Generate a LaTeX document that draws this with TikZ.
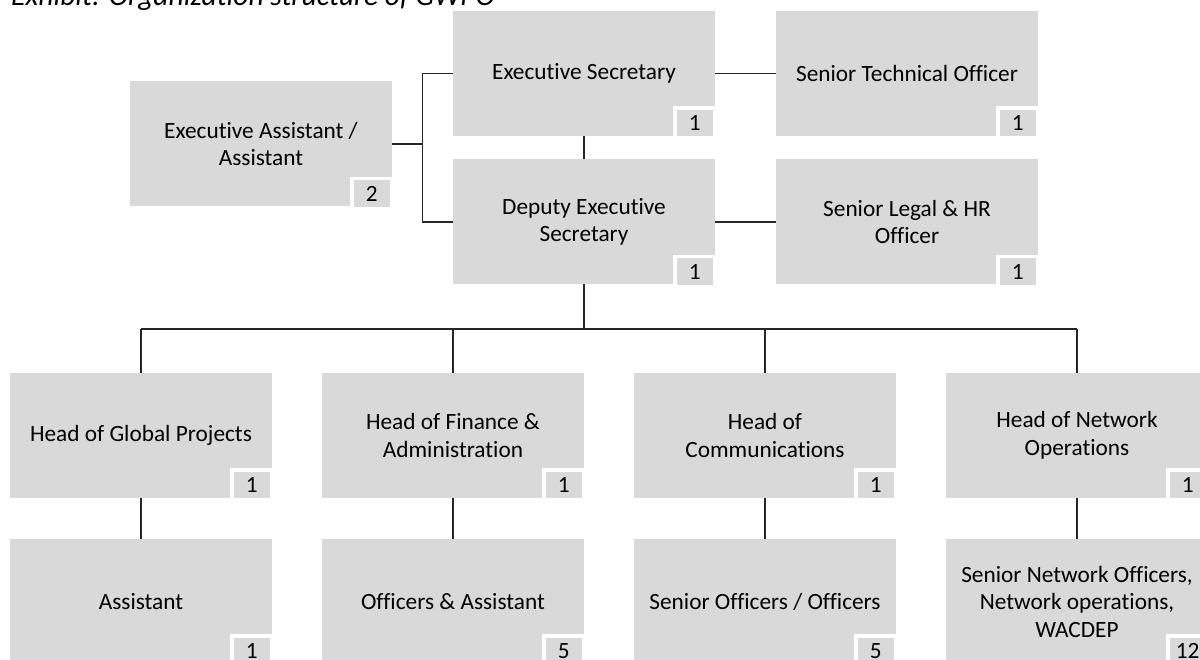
\documentclass[tikz,border=0pt]{standalone}
\usepackage{fontspec}
\setmainfont{Carlito}[Ligatures=NoCommon]
\definecolor{boxgray}{HTML}{D9D9D9}
\definecolor{linecol}{HTML}{262626}
\tikzset{
  orgbox/.style={rectangle, fill=boxgray, minimum width=262pt, minimum height=125pt,
    inner sep=0pt, outer sep=0pt, align=center, text=black,
    font=\fontsize{23.3}{27.5}\selectfont},
  badge/.style={rectangle, fill=boxgray, draw=white, line width=3.5pt,
    minimum width=39.4pt, minimum height=29.8pt, inner sep=0pt, outer sep=0pt,
    anchor=south east, font=\fontsize{23.3}{27.5}\selectfont},
  conn/.style={draw=linecol, line width=1.2pt},
}
\newcommand{\orgbadge}[2]{\node[badge] (#1b) at ([xshift=-0.6pt,yshift=-2pt]#1.south east) {#2};}
\begin{document}
\begin{tikzpicture}[x=1pt,y=-1pt]
\useasboundingbox (0,0) rectangle (1200,660);
\clip (0,0) rectangle (1200,660);
% title
\node[anchor=base west, inner sep=0pt, font=\itshape\fontsize{29.5}{33}\selectfont] (title) at (11,6) {Exhibit: Organization structure of GWPO};
% top boxes
\node[orgbox, anchor=north west] (ea) at (130,81.5) {Executive Assistant /\\Assistant};
\node[orgbox, anchor=north west] (es) at (453,11) {Executive Secretary};
\node[orgbox, anchor=north west] (de) at (453,159.5) {Deputy Executive\\Secretary};
\node[orgbox, anchor=north west] (st) at (776,11) {Senior Technical Officer};
\node[orgbox, anchor=north west] (sl) at (776,159.5) {Senior Legal \& HR\\Officer};
% row 2
\node[orgbox, anchor=north west] (h1) at (10,373) {Head of Global Projects};
\node[orgbox, anchor=north west] (h2) at (322,373) {Head of Finance \&\\Administration};
\node[orgbox, anchor=north west] (h3) at (634,373) {Head of\\Communications};
\node[orgbox, anchor=north west] (h4) at (946,373) {Head of Network\\Operations};
% row 3
\node[orgbox, anchor=north west] (s1) at (10,539) {Assistant};
\node[orgbox, anchor=north west] (s2) at (322,539) {Officers \& Assistant};
\node[orgbox, anchor=north west] (s3) at (634,539) {Senior Officers / Officers};
\node[orgbox, anchor=north west] (s4) at (946,539) {Senior Network Officers,\\Network operations,\\WACDEP};
% badges
\orgbadge{ea}{2}
\orgbadge{es}{1}
\orgbadge{de}{1}
\orgbadge{st}{1}
\orgbadge{sl}{1}
\orgbadge{h1}{1}
\orgbadge{h2}{1}
\orgbadge{h3}{1}
\orgbadge{h4}{1}
\orgbadge{s1}{1}
\orgbadge{s2}{5}
\orgbadge{s3}{5}
\orgbadge{s4}{12}
% connectors
\coordinate (ej) at (422.3,0);
\coordinate (bus) at (0,329);
\draw[conn] (ea.east) -- (ea.east -| ej);
\draw[conn] (es.west -| ej) -- (de.west -| ej);
\draw[conn] (es.west -| ej) -- (es.west);
\draw[conn] (de.west -| ej) -- (de.west);
\draw[conn] (es.east) -- (st.west);
\draw[conn] (de.east) -- (sl.west);
\draw[conn] (es.south) -- (de.north);
\draw[conn] (de.south) -- (de.south |- bus);
\draw[conn] (h1.north |- bus) -- (h4.north |- bus);
\draw[conn] (h1.north |- bus) -- (h1.north);
\draw[conn] (h2.north |- bus) -- (h2.north);
\draw[conn] (h3.north |- bus) -- (h3.north);
\draw[conn] (h4.north |- bus) -- (h4.north);
\draw[conn] (h1.south) -- (s1.north);
\draw[conn] (h2.south) -- (s2.north);
\draw[conn] (h3.south) -- (s3.north);
\draw[conn] (h4.south) -- (s4.north);
\end{tikzpicture}
\end{document}
